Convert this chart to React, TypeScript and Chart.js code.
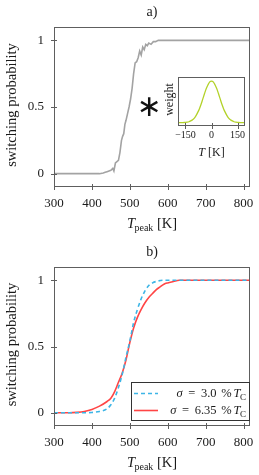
import React, { useEffect, useRef } from "react";
import { Chart, registerables } from "chart.js";
Chart.register(...registerables);

// ---------- data ----------
const xTickValues = [300, 400, 500, 600, 700, 800];
const yTickValues = [0, 0.5, 1];

// a) measured switching probability
const tPeakA = [300, 420, 430, 435, 440, 445, 450, 455, 458, 462, 466, 470, 474, 478, 481, 484, 487, 490, 494, 498, 502, 506, 510, 514, 518, 522, 526, 530, 534, 538, 542, 546, 550, 556, 562, 568, 575, 585, 600, 817];
const switchA = [0, 0, 0.005, 0.01, 0.015, 0.02, 0.025, 0.04, 0.02, 0.08, 0.09, 0.1, 0.16, 0.25, 0.28, 0.3, 0.37, 0.4, 0.45, 0.5, 0.56, 0.64, 0.75, 0.83, 0.84, 0.87, 0.92, 0.89, 0.95, 0.93, 0.97, 0.96, 0.98, 0.97, 0.99, 0.99, 1, 1, 1, 1];

// b) sigma = 3.0 % T_C
const tPeakB1 = [300, 380, 400, 420, 440, 450, 460, 470, 480, 490, 500, 510, 520, 530, 540, 550, 560, 575, 590, 610, 817];
const switchB1 = [0, 0, 0.002, 0.01, 0.03, 0.06, 0.11, 0.19, 0.29, 0.42, 0.54, 0.68, 0.78, 0.86, 0.92, 0.96, 0.98, 0.995, 1, 1, 1];

// b) sigma = 6.35 % T_C
const tPeakB2 = [300, 340, 360, 380, 400, 420, 440, 450, 460, 470, 480, 490, 500, 510, 520, 530, 540, 550, 560, 570, 580, 590, 600, 615, 630, 650, 817];
const switchB2 = [0, 0, 0.003, 0.01, 0.025, 0.05, 0.085, 0.11, 0.16, 0.23, 0.3, 0.4, 0.53, 0.64, 0.72, 0.78, 0.83, 0.87, 0.9, 0.93, 0.95, 0.97, 0.98, 0.99, 1, 1, 1];

// inset: weight vs T
const insetT = [-190, -180, -170, -160, -150, -140, -130, -120, -110, -100, -90, -80, -70, -60, -50, -40, -30, -20, -10, 0, 10, 20, 30, 40, 50, 60, 70, 80, 90, 100, 110, 120, 130, 140, 150, 160, 170, 180, 190];
const insetWeight = [0, 0, 0, 0.002, 0.005, 0.01, 0.02, 0.04, 0.065, 0.1, 0.16, 0.24, 0.33, 0.44, 0.57, 0.7, 0.82, 0.91, 0.98, 1, 0.98, 0.91, 0.82, 0.7, 0.57, 0.44, 0.33, 0.24, 0.16, 0.1, 0.065, 0.04, 0.02, 0.01, 0.005, 0.002, 0, 0, 0];
const insetTickValues = [-150, 0, 150];

const legendSigmas = ["3.0", "6.35"];

// ---------- styles ----------
const SERIF = '"Liberation Serif", "DejaVu Serif", serif';
const FRAME = "#5e5e5e";
const TEXT = "#1a1a1a";
const GRAY = "#a3a3a3";
const BLUE = "#3db5e6";
const RED = "#ff4545";
const GREEN = "#b3d22a";

function pts(xs: number[], ys: number[]) {
  return xs.map((x, i) => ({ x, y: ys[i] }));
}

function fmt(v: number) {
  return String(v).replace("-", "\u2212");
}

function drawXTitle(ctx: CanvasRenderingContext2D, cx: number, cy: number, size: number) {
  const f1 = `italic ${size}px ${SERIF}`;
  const f2 = `${Math.round(size * 0.72)}px ${SERIF}`;
  const f3 = `${size}px ${SERIF}`;
  ctx.font = f1;
  const w1 = ctx.measureText("T").width;
  ctx.font = f2;
  const w2 = ctx.measureText("peak").width;
  ctx.font = f3;
  const w3 = ctx.measureText(" [K]").width;
  const gap = -0.5;
  const total = w1 + gap + w2 + w3;
  let x = cx - total / 2;
  const base = cy + size * 0.33;
  ctx.textAlign = "left";
  ctx.textBaseline = "alphabetic";
  ctx.fillStyle = TEXT;
  ctx.font = f1;
  ctx.fillText("T", x, base);
  x += w1 + gap;
  ctx.font = f2;
  ctx.fillText("peak", x, base + size * 0.2);
  x += w2;
  ctx.font = f3;
  ctx.fillText(" [K]", x, base);
}

function drawFrameAndTicks(chart: any, opts: { xLabelOffset: number; yLabelGap: number; fontSize: number; yTicks: boolean }) {
  const ctx: CanvasRenderingContext2D = chart.ctx;
  const a = chart.chartArea;
  const xs = chart.scales.x;
  const ys = chart.scales.y;
  ctx.save();
  ctx.strokeStyle = FRAME;
  ctx.lineWidth = 1;
  ctx.strokeRect(Math.round(a.left) + 0.5, Math.round(a.top) + 0.5, Math.round(a.right - a.left) - 1, Math.round(a.bottom - a.top) - 1);
  ctx.beginPath();
  xs.ticks.forEach((t: any) => {
    const px = Math.round(xs.getPixelForValue(t.value)) + 0.5;
    ctx.moveTo(px, a.bottom - 3);
    ctx.lineTo(px, a.bottom + 3);
  });
  if (opts.yTicks) {
    ys.ticks.forEach((t: any) => {
      const py = Math.round(ys.getPixelForValue(t.value)) + 0.5;
      ctx.moveTo(a.left - 3, py);
      ctx.lineTo(a.left + 3, py);
    });
  }
  ctx.stroke();
  ctx.fillStyle = TEXT;
  ctx.font = `${opts.fontSize}px ${SERIF}`;
  ctx.textAlign = "center";
  ctx.textBaseline = "middle";
  xs.ticks.forEach((t: any) => {
    ctx.fillText(fmt(t.value), xs.getPixelForValue(t.value), a.bottom + opts.xLabelOffset);
  });
  if (opts.yTicks) {
    ctx.textAlign = "right";
    ys.ticks.forEach((t: any) => {
      ctx.fillText(fmt(t.value), a.left - opts.yLabelGap, ys.getPixelForValue(t.value));
    });
  }
  ctx.restore();
}

function mainOptions(xAxisHeight: number) {
  return {
    animation: false as const,
    responsive: false,
    devicePixelRatio: 1,
    layout: { padding: { top: 27, right: 9, left: 0, bottom: 0 } },
    plugins: { legend: { display: false }, tooltip: { enabled: false }, title: { display: false } },
    elements: { point: { radius: 0 } },
    scales: {
      x: {
        type: "linear" as const,
        min: 300,
        max: 817,
        grid: { display: false },
        border: { display: false },
        ticks: { display: false },
        afterBuildTicks: (s: any) => {
          s.ticks = xTickValues.map((v) => ({ value: v }));
        },
        afterFit: (s: any) => {
          s.height = xAxisHeight;
        },
      },
      y: {
        type: "linear" as const,
        min: -0.1,
        max: 1.1,
        grid: { display: false },
        border: { display: false },
        ticks: { display: false },
        afterBuildTicks: (s: any) => {
          s.ticks = yTickValues.map((v) => ({ value: v }));
        },
        afterFit: (s: any) => {
          s.width = 54;
        },
      },
    },
  };
}

function mainPlugin(id: string, title: string, drawExtra: (chart: any) => void) {
  return {
    id,
    afterDraw(chart: any) {
      const ctx: CanvasRenderingContext2D = chart.ctx;
      const a = chart.chartArea;
      drawFrameAndTicks(chart, { xLabelOffset: 17, yLabelGap: 10, fontSize: 13, yTicks: true });
      ctx.save();
      ctx.fillStyle = TEXT;
      ctx.font = `14px ${SERIF}`;
      ctx.textAlign = "center";
      ctx.textBaseline = "middle";
      ctx.fillText(title, (a.left + a.right) / 2, 12);
      ctx.save();
      ctx.translate(12, (a.top + a.bottom) / 2 - 2);
      ctx.rotate(-Math.PI / 2);
      ctx.font = `14.5px ${SERIF}`;
      ctx.fillText("switching probability", 0, 0);
      ctx.restore();
      drawXTitle(ctx, (a.left + a.right) / 2, a.bottom + 36, 14.5);
      drawExtra(chart);
      ctx.restore();
    },
  };
}

function ChartA() {
  const ref = useRef<HTMLCanvasElement>(null);
  useEffect(() => {
    const chart = new Chart(ref.current!, {
      type: "line",
      data: {
        datasets: [
          {
            data: pts(tPeakA, switchA),
            borderColor: GRAY,
            borderWidth: 1.6,
            tension: 0,
            pointRadius: 0,
          },
        ],
      },
      options: mainOptions(53) as any,
      plugins: [
        mainPlugin("frameA", "a)", (chart: any) => {
          const ctx: CanvasRenderingContext2D = chart.ctx;
          ctx.fillStyle = "#111";
          ctx.font = `30px "DejaVu Sans", sans-serif`;
          ctx.textAlign = "center";
          ctx.textBaseline = "middle";
          ctx.fillText("\u2217", 149, 108);
        }),
      ],
    });
    return () => chart.destroy();
  }, []);
  return <canvas ref={ref} width={259} height={240} style={{ position: "absolute", left: 0, top: 0, width: 259, height: 240 }} />;
}

function ChartB() {
  const ref = useRef<HTMLCanvasElement>(null);
  useEffect(() => {
    const chart = new Chart(ref.current!, {
      type: "line",
      data: {
        datasets: [
          {
            data: pts(tPeakB1, switchB1),
            borderColor: BLUE,
            borderWidth: 1.6,
            borderDash: [4, 3],
            cubicInterpolationMode: "monotone",
            pointRadius: 0,
          },
          {
            data: pts(tPeakB2, switchB2),
            borderColor: RED,
            borderWidth: 1.6,
            cubicInterpolationMode: "monotone",
            pointRadius: 0,
          },
        ],
      },
      options: mainOptions(49) as any,
      plugins: [
        mainPlugin("frameB", "b)", (chart: any) => {
          const ctx: CanvasRenderingContext2D = chart.ctx;
          // legend box
          const bx = 131, by = 142, bw = 118, bh = 38;
          ctx.fillStyle = "#fff";
          ctx.fillRect(bx, by, bw, bh);
          ctx.strokeStyle = "#333";
          ctx.lineWidth = 1;
          ctx.strokeRect(bx + 0.5, by + 0.5, bw, bh);
          const rows = [by + 11, by + 28];
          const colors = [BLUE, RED];
          const dashes = [[4, 3], []];
          legendSigmas.forEach((s, i) => {
            const y = rows[i];
            ctx.save();
            ctx.strokeStyle = colors[i];
            ctx.lineWidth = 1.6;
            ctx.setLineDash(dashes[i]);
            ctx.beginPath();
            ctx.moveTo(bx + 3, y + 0.5);
            ctx.lineTo(bx + 27, y + 0.5);
            ctx.stroke();
            ctx.restore();
            const size = 12.5;
            // [text, font, baseline shift, extra space after]
            const pieces: [string, string, number, number][] = [
              ["\u03c3", `italic ${size}px ${SERIF}`, 0, 2.5],
              ["=", `${size}px ${SERIF}`, 0, 2.5],
              [s, `${size}px ${SERIF}`, 0, 1.5],
              ["%", `${size}px ${SERIF}`, 0, 2],
              ["T", `italic ${size}px ${SERIF}`, 0, -0.5],
              ["C", `${Math.round(size * 0.72)}px ${SERIF}`, 3, 0],
            ];
            ctx.font = `${size}px ${SERIF}`;
            const sp = ctx.measureText(" ").width;
            let total = 0;
            pieces.forEach(([t, f, , extra], k) => {
              ctx.font = f;
              total += ctx.measureText(t).width + extra + (k < 3 ? sp : 0);
            });
            let x = 246 - total;
            ctx.fillStyle = TEXT;
            ctx.textAlign = "left";
            ctx.textBaseline = "alphabetic";
            pieces.forEach(([t, f, dy, extra], k) => {
              ctx.font = f;
              ctx.fillText(t, x, y + 4 + dy);
              x += ctx.measureText(t).width + extra + (k < 3 ? sp : 0);
            });
          });
        }),
      ],
    });
    return () => chart.destroy();
  }, []);
  return <canvas ref={ref} width={259} height={235} style={{ position: "absolute", left: 0, top: 240, width: 259, height: 235 }} />;
}

function Inset() {
  const ref = useRef<HTMLCanvasElement>(null);
  useEffect(() => {
    const chart = new Chart(ref.current!, {
      type: "line",
      data: {
        datasets: [
          {
            data: pts(insetT, insetWeight),
            borderColor: GREEN,
            borderWidth: 1.3,
            cubicInterpolationMode: "monotone",
            pointRadius: 0,
          },
        ],
      },
      options: {
        animation: false,
        responsive: false,
        devicePixelRatio: 1,
        layout: { padding: { top: 9, right: 9, left: 0, bottom: 0 } },
        plugins: { legend: { display: false }, tooltip: { enabled: false } },
        scales: {
          x: {
            type: "linear",
            min: -193,
            max: 193,
            grid: { display: false },
            border: { display: false },
            ticks: { display: false },
            afterBuildTicks: (s: any) => {
              s.ticks = insetTickValues.map((v) => ({ value: v }));
            },
            afterFit: (s: any) => {
              s.height = 42;
            },
          },
          y: {
            type: "linear",
            min: -0.082,
            max: 1.097,
            grid: { display: false },
            border: { display: false },
            ticks: { display: false },
            afterFit: (s: any) => {
              s.width = 20;
            },
          },
        },
      } as any,
      plugins: [
        {
          id: "insetBg",
          beforeDraw(chart: any) {
            const a = chart.chartArea;
            chart.ctx.save();
            chart.ctx.fillStyle = "#fff";
            chart.ctx.fillRect(a.left, a.top, a.right - a.left, a.bottom - a.top);
            chart.ctx.restore();
          },
          afterDraw(chart: any) {
            const ctx: CanvasRenderingContext2D = chart.ctx;
            const a = chart.chartArea;
            drawFrameAndTicks(chart, { xLabelOffset: 9, yLabelGap: 0, fontSize: 10, yTicks: false });
            ctx.save();
            ctx.fillStyle = TEXT;
            ctx.textAlign = "center";
            ctx.textBaseline = "middle";
            ctx.save();
            ctx.translate(a.left - 8, (a.top + a.bottom) / 2 - 2);
            ctx.rotate(-Math.PI / 2);
            ctx.font = `12px ${SERIF}`;
            ctx.fillText("weight", 0, 0);
            ctx.restore();
            const f1 = `italic 12px ${SERIF}`;
            const f2 = `12px ${SERIF}`;
            ctx.font = f1;
            const w1 = ctx.measureText("T").width;
            ctx.font = f2;
            const w2 = ctx.measureText(" [K]").width;
            const x = (a.left + a.right) / 2 - (w1 + w2) / 2;
            ctx.textAlign = "left";
            ctx.font = f1;
            ctx.fillText("T", x, a.bottom + 27);
            ctx.font = f2;
            ctx.fillText(" [K]", x + w1, a.bottom + 27);
            ctx.restore();
          },
        },
      ],
    });
    return () => chart.destroy();
  }, []);
  return <canvas ref={ref} width={96} height={100} style={{ position: "absolute", left: 158, top: 68, width: 96, height: 100 }} />;
}

export default function App() {
  return (
    <div style={{ position: "fixed", left: 0, top: 0, width: 259, height: 475, overflow: "hidden", background: "#fff" }}>
      <ChartA />
      <ChartB />
      <Inset />
    </div>
  );
}
